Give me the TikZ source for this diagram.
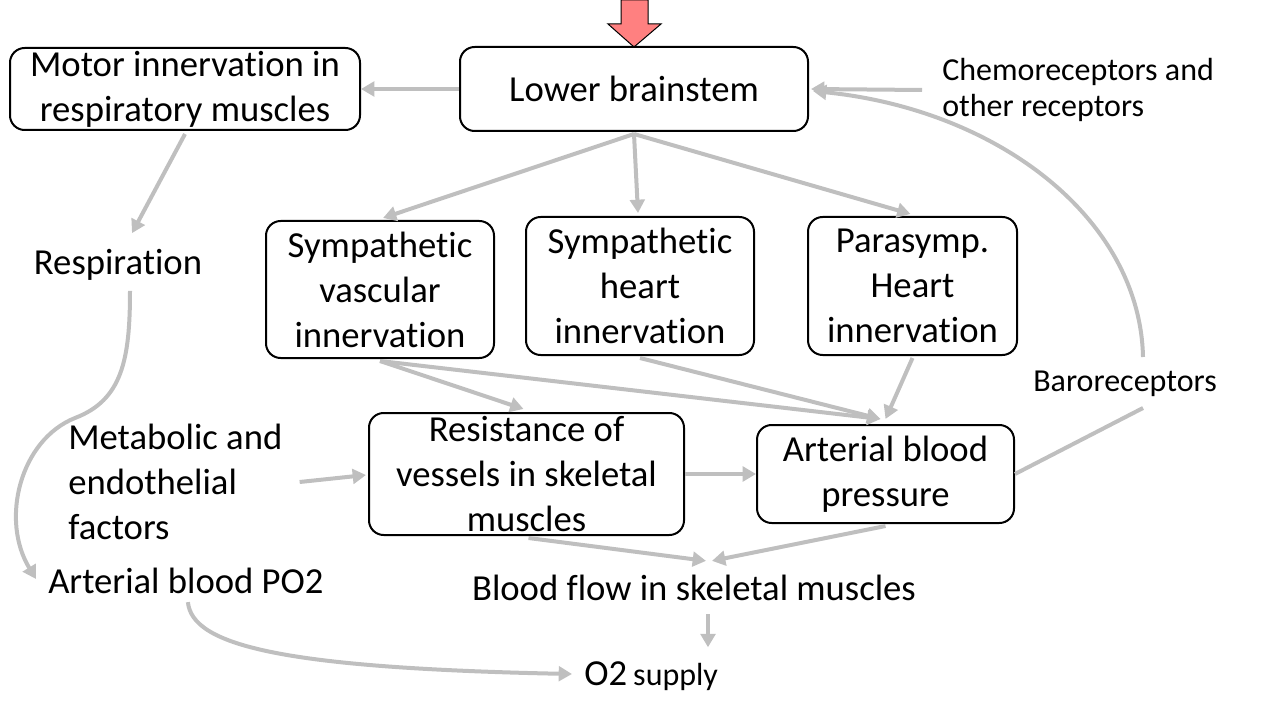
\documentclass[tikz,border=0pt]{standalone}
\usepackage{fontspec}
\setmainfont[Ligatures=NoCommon]{Carlito}
\usetikzlibrary{arrows.meta,calc}
\definecolor{arrgray}{RGB}{191,191,191}
\definecolor{redarrow}{RGB}{255,128,128}
\begin{document}
\begin{tikzpicture}[x=0.75pt,y=-0.75pt,
 box/.style={draw=black,line width=1.5pt,rounded corners=11pt,align=center,inner sep=0pt,font=\fontsize{27.5}{33.75}\selectfont},
 txt/.style={inner sep=0pt,font=\fontsize{27.5}{33.75}\selectfont},
 small/.style={inner sep=0pt,font=\fontsize{24}{27}\selectfont},
 arr/.style={draw=arrgray,line width=3pt,-{Triangle[length=10pt,width=11pt]}},
 ln/.style={draw=arrgray,line width=3pt}]
\useasboundingbox (0,0) rectangle (1280,720);

% red input arrow
\draw[fill=redarrow,draw=black,line width=0.75pt] (621,0) -- (648,0) -- (648,24) -- (661,24) -- (634,47) -- (608,24) -- (621,24) -- cycle;

% boxes
\node[box,minimum width=261pt,minimum height=63pt] (lb) at (634,89) {Lower brainstem};
\node[box,minimum width=262.5pt,minimum height=61.5pt] (motor) at (185,89) {Motor innervation in\\respiratory muscles};
\node[box,minimum width=171pt,minimum height=102.75pt] (svi) at (380,289.5) {Sympathetic\\vascular\\innervation};
\node[box,minimum width=171pt,minimum height=103.5pt] (shi) at (640,286) {Sympathetic\\heart\\innervation};
\node[box,minimum width=156.75pt,minimum height=103.5pt] (ph) at (912.5,286) {Parasymp.\\Heart\\innervation};
\node[box,minimum width=236.25pt,minimum height=91.5pt] (res) at (526.5,474) {Resistance of\\vessels in skeletal\\muscles};
\node[box,minimum width=192.75pt,minimum height=73.5pt] (abp) at (885.5,474) {Arterial blood\\pressure};

% plain texts
\node[small,align=left,anchor=west] (chemo) at (942,90) {Chemoreceptors and\\other receptors};
\node[txt] (resp) at (118,265) {Respiration};
\node[small] (baro) at (1125,384) {Baroreceptors};
\node[txt,align=left,anchor=west] (meta) at (68,482) {Metabolic and\\endothelial\\factors};
\node[txt,anchor=west] (po2) at (48,581) {Arterial blood PO2};
\node[txt] (flow) at (694,588) {Blood flow in skeletal muscles};
\node[txt,anchor=west] (o2) at (584,676) {O2\,{\fontsize{24}{27}\selectfont supply}};

\coordinate (b1) at (1143,408);
\coordinate (b2) at (1143,357);
\coordinate (f1) at (708,614);

% connectors
\draw[arr] (lb.west) -- (motor.east);
\draw[arr] ($(chemo.west)+(-20,0)$) -- ($(lb.east)+(2,0)$);
\draw[arr] ($(motor.south)+(0,3)$) -- ($(resp.north)+(14,-16)$);
\draw[arr] ($(lb.south)+(0,2)$) -- ($(svi.north)+(3,-2)$);
\draw[arr] ($(lb.south)+(0,2)$) -- ($(shi.north)+(-2,-3)$);
\draw[arr] ($(lb.south)+(0,2)$) -- ($(ph.north)+(-2,-2)$);
\draw[arr] ($(resp.south)+(12,10)$) .. controls (130,360) and (122,400) .. (75,418) .. controls (20,440) and (0,520) .. ($(po2.west)+(-12,-2)$);
\draw[arr] ($(svi.south)+(0,2)$) -- ($(res.north)+(-3,-3)$);
\draw[arr] ($(svi.south)+(0,2)$) -- ($(abp.north)+(-5,-5)$);
\draw[arr] ($(shi.south)+(0,2)$) -- ($(abp.north)+(-5,-5)$);
\draw[arr] ($(ph.south)+(0,2)$) -- ($(abp.north)+(0,-5)$);
\draw[arr] ($(meta.east)+(17,0)$) -- ($(res.west)+(-2,1)$);
\draw[arr] (res.east) -- (abp.west);
\draw[arr] ($(res.south)+(2,2)$) -- ($(flow.north)+(12,-14)$);
\draw[arr] ($(abp.south)+(0,2)$) -- ($(flow.north)+(18,-14)$);
\draw[arr] (f1) -- ($(f1 |- o2.north)+(0,-14)$);
\draw[ln] (abp.east) -- (b1);
\draw[arr] (b2) .. controls (1140,220) and (1000,110) .. ($(lb.east)+(4,2)$);
\draw[arr] ($(po2.south)+(2,8)$) .. controls (192,645) and (280,668) .. ($(o2.west)+(-12,-2)$);
\end{tikzpicture}
\end{document}
